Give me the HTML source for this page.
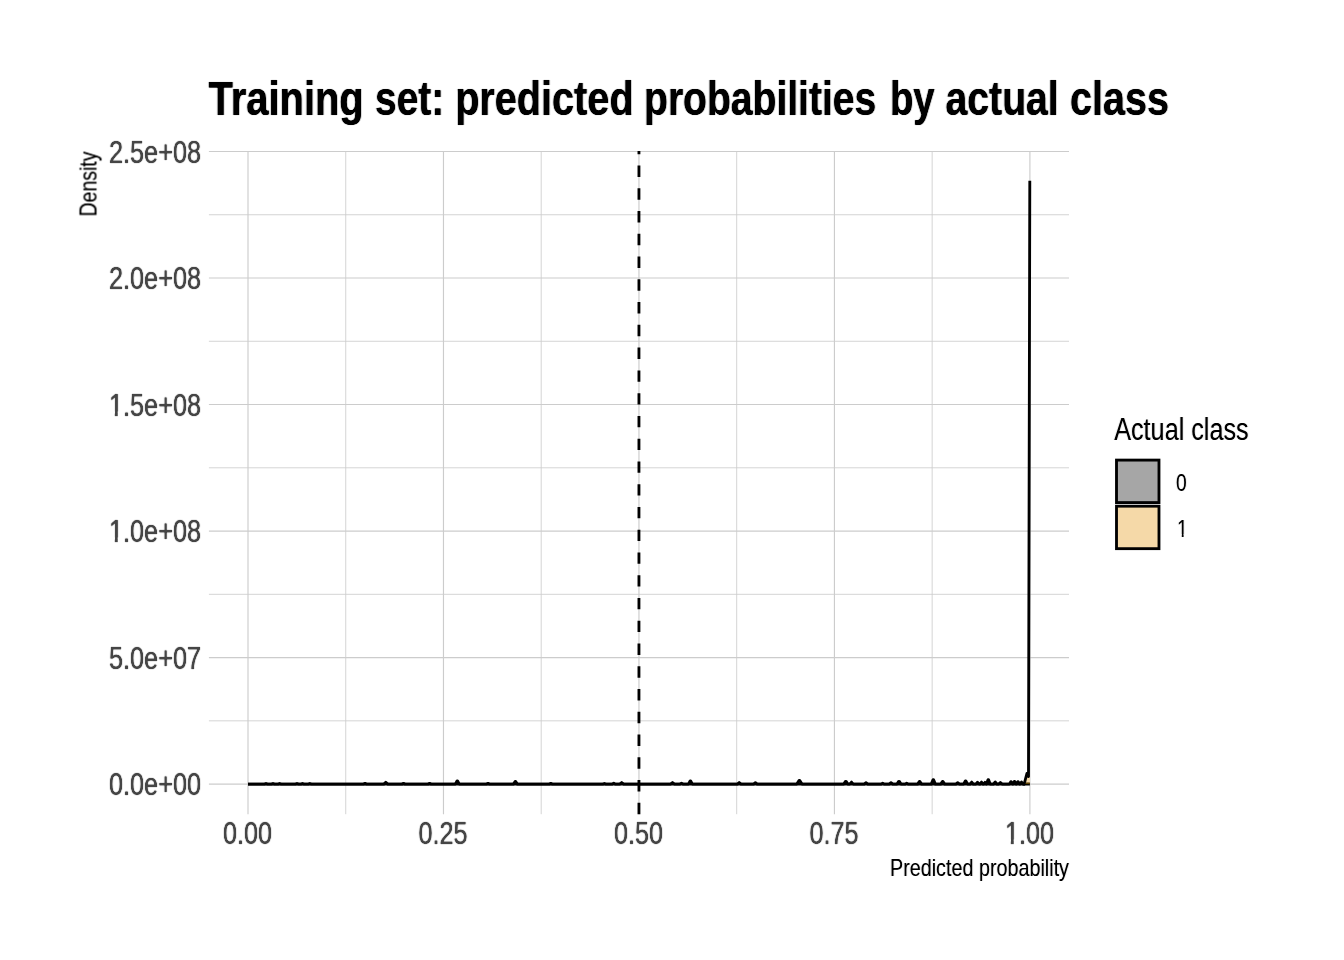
<!DOCTYPE html>
<html lang="en"><head><meta charset="utf-8"><title>Training set: predicted probabilities by actual class</title>
<style>html,body{margin:0;padding:0;background:#fff;}body{width:1344px;height:960px;overflow:hidden;}svg{display:block;}text{font-family:"Liberation Sans", sans-serif;}</style></head><body>
<svg width="1344" height="960" viewBox="0 0 1344 960">
<defs>
<filter id="fT" x="-5%" y="-30%" width="110%" height="160%" color-interpolation-filters="sRGB"><feConvolveMatrix in="SourceAlpha" order="3 3" kernelMatrix="0 0.05 0 0.2 1 0.2 0 0.05 0" divisor="1" bias="0" edgeMode="none" preserveAlpha="false" result="a"/><feFlood flood-color="#000000" result="c"/><feComposite in="c" in2="a" operator="in"/></filter>
<filter id="fG" x="-5%" y="-30%" width="110%" height="160%" color-interpolation-filters="sRGB"><feConvolveMatrix in="SourceAlpha" order="3 3" kernelMatrix="0 0.12 0 0.15 1 0.15 0 0.12 0" divisor="1" bias="0" edgeMode="none" preserveAlpha="false" result="a"/><feFlood flood-color="#454545" result="c"/><feComposite in="c" in2="a" operator="in"/></filter>
<filter id="fB" x="-5%" y="-30%" width="110%" height="160%" color-interpolation-filters="sRGB"><feConvolveMatrix in="SourceAlpha" order="3 3" kernelMatrix="0 0.0 0 0.08 1 0.08 0 0.0 0" divisor="1" bias="0" edgeMode="none" preserveAlpha="false" result="a"/><feFlood flood-color="#000000" result="c"/><feComposite in="c" in2="a" operator="in"/></filter>
<filter id="fV" x="-5%" y="-30%" width="110%" height="160%" color-interpolation-filters="sRGB"><feConvolveMatrix in="SourceAlpha" order="3 3" kernelMatrix="0 0.08 0 0.0 1 0.0 0 0.08 0" divisor="1" bias="0" edgeMode="none" preserveAlpha="false" result="a"/><feFlood flood-color="#000000" result="c"/><feComposite in="c" in2="a" operator="in"/></filter>
</defs>
<rect x="0" y="0" width="1344" height="960" fill="#ffffff"/>
<g stroke="#cccccc" fill="none" stroke-linecap="butt">
<line x1="208.91" x2="1069.00" y1="720.84" y2="720.84" stroke-width="0.85"/>
<line x1="208.91" x2="1069.00" y1="594.32" y2="594.32" stroke-width="0.85"/>
<line x1="208.91" x2="1069.00" y1="467.80" y2="467.80" stroke-width="0.85"/>
<line x1="208.91" x2="1069.00" y1="341.28" y2="341.28" stroke-width="0.85"/>
<line x1="208.91" x2="1069.00" y1="214.76" y2="214.76" stroke-width="0.85"/>
<line x1="345.74" x2="345.74" y1="151.06" y2="814.20" stroke-width="0.85"/>
<line x1="541.21" x2="541.21" y1="151.06" y2="814.20" stroke-width="0.85"/>
<line x1="736.69" x2="736.69" y1="151.06" y2="814.20" stroke-width="0.85"/>
<line x1="932.16" x2="932.16" y1="151.06" y2="814.20" stroke-width="0.85"/>
<line x1="208.91" x2="1069.00" y1="784.10" y2="784.10" stroke-width="1.14"/>
<line x1="208.91" x2="1069.00" y1="657.58" y2="657.58" stroke-width="1.14"/>
<line x1="208.91" x2="1069.00" y1="531.06" y2="531.06" stroke-width="1.14"/>
<line x1="208.91" x2="1069.00" y1="404.54" y2="404.54" stroke-width="1.14"/>
<line x1="208.91" x2="1069.00" y1="278.02" y2="278.02" stroke-width="1.14"/>
<line x1="208.91" x2="1069.00" y1="151.50" y2="151.50" stroke-width="1.14"/>
<line x1="248.00" x2="248.00" y1="151.06" y2="814.20" stroke-width="1.14"/>
<line x1="443.48" x2="443.48" y1="151.06" y2="814.20" stroke-width="1.14"/>
<line x1="638.95" x2="638.95" y1="151.06" y2="814.20" stroke-width="1.14"/>
<line x1="834.43" x2="834.43" y1="151.06" y2="814.20" stroke-width="1.14"/>
<line x1="1029.90" x2="1029.90" y1="151.06" y2="814.20" stroke-width="1.14"/>
</g>
<polygon points="1025.0,784.10 1027.6,776.10 1029.9,776.10 1029.9,784.10" fill="#f5d9a8"/>
<path d="M248.00,784.10 L264.50,784.10 L266.00,783.50 L267.50,784.10 L271.50,784.10 L273.00,783.50 L274.50,784.10 L278.10,784.10 L279.60,783.50 L281.10,784.10 L295.50,784.10 L297.00,783.50 L298.50,784.10 L301.00,784.10 L302.50,783.50 L304.00,784.10 L308.30,784.10 L309.80,783.50 L311.30,784.10 L363.50,784.10 L365.00,783.40 L366.50,784.10 L383.80,784.10 L385.80,782.30 L387.80,784.10 L402.00,784.10 L403.50,783.40 L405.00,784.10 L428.10,784.10 L429.60,783.40 L431.10,784.10 L455.30,784.10 L457.02,780.90 L457.58,780.90 L459.30,784.10 L486.50,784.10 L488.00,783.40 L489.50,784.10 L513.40,784.10 L515.12,781.50 L515.68,781.50 L517.40,784.10 L549.30,784.10 L550.80,783.40 L552.30,784.10 L602.90,784.10 L604.40,783.50 L605.90,784.10 L612.25,784.10 L613.75,783.10 L615.25,784.10 L619.70,784.10 L621.70,782.50 L623.70,784.10 L670.50,784.10 L672.50,782.50 L674.50,784.10 L680.00,784.10 L681.50,783.30 L683.00,784.10 L688.40,784.10 L690.12,780.90 L690.68,780.90 L692.40,784.10 L737.40,784.10 L739.20,782.50 L741.00,784.10 L753.60,784.10 L755.40,782.60 L757.20,784.10 L796.80,784.10 L799.04,780.50 L799.76,780.50 L802.00,784.10 L843.80,784.10 L845.52,781.30 L846.08,781.30 L847.80,784.10 L849.70,784.10 L851.50,782.10 L853.30,784.10 L864.20,784.10 L866.00,782.70 L867.80,784.10 L881.20,784.10 L882.70,783.20 L884.20,784.10 L889.20,784.10 L891.00,782.60 L892.80,784.10 L897.00,784.10 L898.72,781.30 L899.28,781.30 L901.00,784.10 L905.20,784.10 L906.70,783.20 L908.20,784.10 L917.60,784.10 L919.32,781.50 L919.88,781.50 L921.60,784.10 L931.20,784.10 L933.01,779.70 L933.59,779.70 L935.40,784.10 L940.70,784.10 L942.42,781.50 L942.98,781.50 L944.70,784.10 L955.90,784.10 L957.70,782.70 L959.50,784.10 L963.60,784.10 L965.32,780.90 L965.88,780.90 L967.60,784.10 L970.10,784.10 L971.70,782.10 L973.30,784.10 L975.90,784.10 L977.50,782.30 L979.10,784.10 L979.90,784.10 L981.50,782.10 L983.10,784.10 L983.60,784.10 L985.00,782.30 L986.40,784.10 L986.40,784.10 L988.03,779.70 L988.57,779.70 L990.20,784.10 L993.40,784.10 L995.20,781.90 L997.00,784.10 L998.80,784.10 L1000.40,782.50 L1002.00,784.10 L1009.40,784.10 L1010.78,781.70 L1011.22,781.70 L1012.60,784.10 L1013.00,784.10 L1014.29,781.50 L1014.71,781.50 L1016.00,784.10 L1016.50,784.10 L1017.79,781.70 L1018.21,781.70 L1019.50,784.10 L1020.10,784.10 L1021.50,781.90 L1022.90,784.10 L1023.20,784.10 L1024.10,784.30 L1026.90,773.50 L1028.50,776.50 L1029.80,180.80" fill="none" stroke="#000000" stroke-width="2.85" stroke-linejoin="round" stroke-linecap="butt"/>
<line x1="248.00" x2="1029.90" y1="784.10" y2="784.10" stroke="#000000" stroke-width="2.85"/>
<rect x="1025.6" y="782.68" width="4.3" height="1.4" fill="#5c4000"/>
<line x1="638.95" x2="638.95" y1="814.20" y2="151.06" stroke="#000000" stroke-width="2.85" stroke-dasharray="11.38 11.38"/>
<text y="114.8" font-size="48" font-weight="bold" fill="#000000" filter="url(#fT)">
<tspan x="208.59" textLength="155.14" lengthAdjust="spacingAndGlyphs">Training</tspan> <tspan x="375.09" textLength="68.99" lengthAdjust="spacingAndGlyphs">set:</tspan> <tspan x="455.13" textLength="178.47" lengthAdjust="spacingAndGlyphs">predicted</tspan> <tspan x="644.02" textLength="232.27" lengthAdjust="spacingAndGlyphs">probabilities</tspan> <tspan x="889.97" textLength="44.71" lengthAdjust="spacingAndGlyphs">by</tspan> <tspan x="945.56" textLength="113.21" lengthAdjust="spacingAndGlyphs">actual</tspan> <tspan x="1069.99" textLength="99.00" lengthAdjust="spacingAndGlyphs">class</tspan>
</text>
<text x="201.00" y="795.30" font-size="30.67" font-weight="normal" fill="#454545" text-anchor="end" textLength="92.00" lengthAdjust="spacingAndGlyphs" filter="url(#fG)">0.0e+00</text>
<text x="201.00" y="668.78" font-size="30.67" font-weight="normal" fill="#454545" text-anchor="end" textLength="92.00" lengthAdjust="spacingAndGlyphs" filter="url(#fG)">5.0e+07</text>
<text x="201.00" y="542.26" font-size="30.67" font-weight="normal" fill="#454545" text-anchor="end" textLength="92.00" lengthAdjust="spacingAndGlyphs" filter="url(#fG)">1.0e+08</text>
<text x="201.00" y="415.74" font-size="30.67" font-weight="normal" fill="#454545" text-anchor="end" textLength="92.00" lengthAdjust="spacingAndGlyphs" filter="url(#fG)">1.5e+08</text>
<text x="201.00" y="289.22" font-size="30.67" font-weight="normal" fill="#454545" text-anchor="end" textLength="92.00" lengthAdjust="spacingAndGlyphs" filter="url(#fG)">2.0e+08</text>
<text x="201.00" y="162.70" font-size="30.67" font-weight="normal" fill="#454545" text-anchor="end" textLength="92.00" lengthAdjust="spacingAndGlyphs" filter="url(#fG)">2.5e+08</text>
<text x="247.60" y="843.75" font-size="30.67" font-weight="normal" fill="#454545" text-anchor="middle" textLength="49.00" lengthAdjust="spacingAndGlyphs" filter="url(#fG)">0.00</text>
<text x="443.08" y="843.75" font-size="30.67" font-weight="normal" fill="#454545" text-anchor="middle" textLength="49.00" lengthAdjust="spacingAndGlyphs" filter="url(#fG)">0.25</text>
<text x="638.55" y="843.75" font-size="30.67" font-weight="normal" fill="#454545" text-anchor="middle" textLength="49.00" lengthAdjust="spacingAndGlyphs" filter="url(#fG)">0.50</text>
<text x="834.03" y="843.75" font-size="30.67" font-weight="normal" fill="#454545" text-anchor="middle" textLength="49.00" lengthAdjust="spacingAndGlyphs" filter="url(#fG)">0.75</text>
<text x="1029.50" y="843.75" font-size="30.67" font-weight="normal" fill="#454545" text-anchor="middle" textLength="49.00" lengthAdjust="spacingAndGlyphs" filter="url(#fG)">1.00</text>
<text x="1069.00" y="875.90" font-size="24.00" font-weight="normal" fill="#000000" text-anchor="end" textLength="179.00" lengthAdjust="spacingAndGlyphs" filter="url(#fB)">Predicted probability</text>
<g transform="translate(96.5,151.5) rotate(-90)" filter="url(#fV)">
<text x="0.00" y="0.00" font-size="24.00" font-weight="normal" fill="#000000" text-anchor="end" textLength="65.00" lengthAdjust="spacingAndGlyphs">Density</text>
</g>
<text x="1114.20" y="440.00" font-size="30.67" font-weight="normal" fill="#000000" text-anchor="start" textLength="134.50" lengthAdjust="spacingAndGlyphs" filter="url(#fB)">Actual class</text>
<rect x="1116.50" y="460.10" width="42.48" height="42.48" fill="#a6a6a6" stroke="#000000" stroke-width="2.85" stroke-linejoin="miter"/>
<text x="1176.10" y="490.80" font-size="24.53" font-weight="normal" fill="#000000" text-anchor="start" textLength="10.70" lengthAdjust="spacingAndGlyphs" filter="url(#fB)">0</text>
<rect x="1116.50" y="506.18" width="42.48" height="42.48" fill="#f5d9a8" stroke="#000000" stroke-width="2.85" stroke-linejoin="miter"/>
<text x="1177.00" y="536.88" font-size="24.53" font-weight="normal" fill="#000000" text-anchor="start" textLength="10.70" lengthAdjust="spacingAndGlyphs" filter="url(#fB)">1</text>
<rect x="109.00" y="411.40" width="5.80" height="5.80" fill="#ffffff"/>
<rect x="117.75" y="411.40" width="5.45" height="5.80" fill="#ffffff"/>
<rect x="109.00" y="537.40" width="5.80" height="5.80" fill="#ffffff"/>
<rect x="117.75" y="537.40" width="5.45" height="5.80" fill="#ffffff"/>
<rect x="1004.60" y="839.40" width="6.20" height="5.80" fill="#ffffff"/>
<rect x="1013.75" y="839.40" width="5.65" height="5.80" fill="#ffffff"/>
<rect x="1176.50" y="534.40" width="5.26" height="2.80" fill="#ffffff"/>
<rect x="1183.60" y="534.40" width="4.40" height="2.80" fill="#ffffff"/>
</svg></body></html>
